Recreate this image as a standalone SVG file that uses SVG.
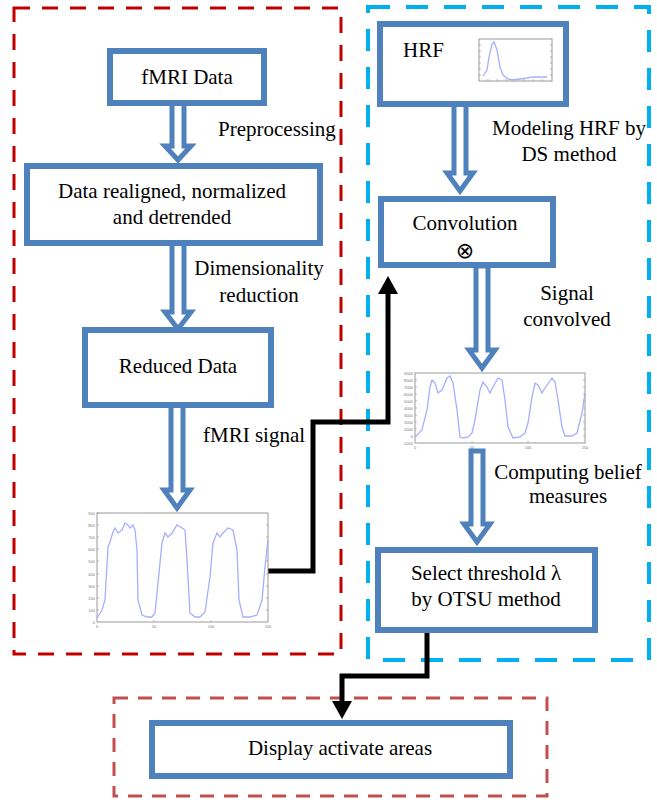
<svg xmlns="http://www.w3.org/2000/svg" width="657" height="800" viewBox="0 0 657 800">
<style>
.t{font-family:"Liberation Serif","Times New Roman",serif;font-size:21px;fill:#000}
.box{fill:#fff;stroke:#4F81BD;stroke-width:6}
.harrow{fill:#fff;stroke:#4F81BD;stroke-width:5;stroke-linejoin:miter;stroke-miterlimit:10}
.conn{fill:none;stroke:#000;stroke-width:5}
.frame{fill:#fff;stroke:#999;stroke-width:1}
.curve{fill:none;stroke:#a8adff;stroke-width:1.3}
.tick{font-family:"Liberation Sans",Arial,sans-serif;font-size:4px;fill:#777}
.tk{stroke:#999;stroke-width:0.7}
</style>
<defs>
<marker id="ah" markerWidth="4" markerHeight="4" refX="0.4" refY="2" orient="auto" markerUnits="strokeWidth" viewBox="0 0 4 4">
<path d="M0,0 L3.6,2 L0,4 z" fill="#000"/>
</marker>
</defs>
<rect width="657" height="800" fill="#fff"/>

<!-- group containers -->
<rect id="group-left" x="14" y="8" width="327" height="646" fill="none" stroke="#C00000" stroke-width="3" stroke-dasharray="16 12"/>
<rect id="group-right" x="368" y="7" width="281" height="653" fill="none" stroke="#00B0F0" stroke-width="4" stroke-dasharray="22 16"/>
<rect id="group-bottom" x="114" y="698" width="433" height="98" fill="none" stroke="#C0504D" stroke-width="3" stroke-dasharray="14 10"/>

<!-- hollow arrows and connectors -->
<g id="connectors">
<polygon class="harrow" points="172,103 184,103 184,146 191,146 178,160 165,146 172,146"/>
<polygon class="harrow" points="172,243 184,243 184,312 191,312 178,329 165,312 172,312"/>
<polygon class="harrow" points="171,405 183,405 183,490 190,490 177,508 164,490 171,490"/>
<polygon class="harrow" points="454,104 466,104 466,173 473,173 460,191 447,173 454,173"/>
<polygon class="harrow" points="476,266 488,266 488,350 495,350 482,368 469,350 476,350"/>
<polygon class="harrow" points="471,451 483,451 483,524 490,524 477,542 464,524 471,524"/>
<polyline class="conn" points="265,571 313,571 313,422 388,422 388,292" marker-end="url(#ah)"/>
<polyline class="conn" points="427,630 427,676 342,676 342,703" marker-end="url(#ah)"/>
</g>

<g id="node-fmri-data">
<rect class="box" x="110" y="51" width="154" height="52"/>
<text class="t" x="187" y="84" text-anchor="middle">fMRI Data</text>
</g>
<text class="t" x="218" y="136">Preprocessing</text>

<g id="node-realigned">
<rect class="box" x="27" y="166" width="293" height="77"/>
<text class="t" x="172" y="198" text-anchor="middle">Data realigned, normalized</text>
<text class="t" x="172" y="224" text-anchor="middle">and detrended</text>
</g>
<text class="t" x="259" y="275" text-anchor="middle">Dimensionality</text>
<text class="t" x="259" y="302" text-anchor="middle">reduction</text>

<g id="node-reduced">
<rect class="box" x="85" y="330" width="186" height="75"/>
<text class="t" x="178" y="373" text-anchor="middle">Reduced Data</text>
</g>
<text class="t" x="203" y="442">fMRI signal</text>

<g id="node-fmri-plot">
<rect class="frame" x="97" y="513" width="171" height="109"/>
<g class="tk">
<line x1="97" y1="513" x2="99" y2="513"/><line x1="97" y1="525" x2="99" y2="525"/><line x1="97" y1="537" x2="99" y2="537"/><line x1="97" y1="549" x2="99" y2="549"/><line x1="97" y1="561" x2="99" y2="561"/><line x1="97" y1="574" x2="99" y2="574"/><line x1="97" y1="586" x2="99" y2="586"/><line x1="97" y1="598" x2="99" y2="598"/><line x1="97" y1="610" x2="99" y2="610"/>
<line x1="266" y1="525" x2="268" y2="525"/><line x1="266" y1="537" x2="268" y2="537"/><line x1="266" y1="549" x2="268" y2="549"/><line x1="266" y1="561" x2="268" y2="561"/><line x1="266" y1="574" x2="268" y2="574"/><line x1="266" y1="586" x2="268" y2="586"/><line x1="266" y1="598" x2="268" y2="598"/><line x1="266" y1="610" x2="268" y2="610"/>
<line x1="154" y1="622" x2="154" y2="620"/><line x1="211" y1="622" x2="211" y2="620"/>
</g>
<g class="tick" text-anchor="end">
<text x="95" y="515">900</text><text x="95" y="527">800</text><text x="95" y="539">700</text><text x="95" y="551">600</text><text x="95" y="563">500</text><text x="95" y="576">400</text><text x="95" y="588">300</text><text x="95" y="600">200</text><text x="95" y="612">100</text><text x="95" y="624">0</text>
</g>
<g class="tick" text-anchor="middle">
<text x="97" y="628">0</text><text x="154" y="628">50</text><text x="211" y="628">100</text><text x="268" y="628">150</text>
</g>
<polyline class="curve" points="97,618 102,610 105,600 108,547 110,542 113,532 115,528 118,533 122,530 125,523 128,525 130,528 133,525 135,530 137,550 138,600 142,615 147,617 152,617 155,613 158,583 162,543 165,533 168,537 172,533 177,525 182,528 185,530 187,560 190,613 195,617 200,617 205,612 210,577 213,543 217,533 220,537 223,533 228,528 233,530 237,550 239,600 243,617 250,617 257,615 262,600 265,567 268,540"/>
</g>

<g id="node-hrf">
<rect class="box" x="380" y="24" width="186" height="80"/>
<text class="t" x="403" y="57">HRF</text>
<rect class="frame" x="479" y="39" width="73" height="42"/>
<g class="tk">
<line x1="479" y1="45" x2="481" y2="45"/><line x1="479" y1="51" x2="481" y2="51"/><line x1="479" y1="57" x2="481" y2="57"/><line x1="479" y1="63" x2="481" y2="63"/><line x1="479" y1="69" x2="481" y2="69"/><line x1="479" y1="75" x2="481" y2="75"/>
<line x1="550" y1="45" x2="552" y2="45"/><line x1="550" y1="51" x2="552" y2="51"/><line x1="550" y1="57" x2="552" y2="57"/><line x1="550" y1="63" x2="552" y2="63"/><line x1="550" y1="69" x2="552" y2="69"/><line x1="550" y1="75" x2="552" y2="75"/>
<line x1="488" y1="81" x2="488" y2="79"/><line x1="497" y1="81" x2="497" y2="79"/><line x1="506" y1="81" x2="506" y2="79"/><line x1="515" y1="81" x2="515" y2="79"/><line x1="524" y1="81" x2="524" y2="79"/><line x1="533" y1="81" x2="533" y2="79"/><line x1="542" y1="81" x2="542" y2="79"/>
</g>
<polyline class="curve" points="483,76 487,70 489,57 492,44 494,42 497,50 500,67 503,75 508,79 513,80 520,79 527,78 533,77 547,77"/>
</g>
<text class="t" x="569" y="135" text-anchor="middle">Modeling HRF by</text>
<text class="t" x="569" y="161" text-anchor="middle">DS method</text>

<g id="node-convolution">
<rect class="box" x="381" y="199" width="172" height="66"/>
<text class="t" x="465" y="230" text-anchor="middle">Convolution</text>
<text x="465" y="258" text-anchor="middle" font-family="DejaVu Sans, sans-serif" font-size="22" fill="#000">⊗</text>
</g>
<text class="t" x="567" y="300" text-anchor="middle">Signal</text>
<text class="t" x="567" y="326" text-anchor="middle">convolved</text>

<g id="node-convolved-plot">
<rect class="frame" x="415" y="373" width="170" height="70"/>
<g class="tk">
<line x1="415" y1="380" x2="417" y2="380"/><line x1="415" y1="387" x2="417" y2="387"/><line x1="415" y1="394" x2="417" y2="394"/><line x1="415" y1="401" x2="417" y2="401"/><line x1="415" y1="408" x2="417" y2="408"/><line x1="415" y1="415" x2="417" y2="415"/><line x1="415" y1="422" x2="417" y2="422"/><line x1="415" y1="429" x2="417" y2="429"/><line x1="415" y1="436" x2="417" y2="436"/>
<line x1="583" y1="380" x2="585" y2="380"/><line x1="583" y1="387" x2="585" y2="387"/><line x1="583" y1="394" x2="585" y2="394"/><line x1="583" y1="401" x2="585" y2="401"/><line x1="583" y1="408" x2="585" y2="408"/><line x1="583" y1="415" x2="585" y2="415"/><line x1="583" y1="422" x2="585" y2="422"/><line x1="583" y1="429" x2="585" y2="429"/><line x1="583" y1="436" x2="585" y2="436"/>
<line x1="472" y1="443" x2="472" y2="441"/><line x1="528" y1="443" x2="528" y2="441"/>
</g>
<g class="tick" text-anchor="end">
<text x="413" y="375">9000</text><text x="413" y="382">8000</text><text x="413" y="389">7000</text><text x="413" y="396">6000</text><text x="413" y="403">5000</text><text x="413" y="410">4000</text><text x="413" y="417">3000</text><text x="413" y="424">2000</text><text x="413" y="431">1000</text><text x="413" y="438">0</text><text x="413" y="445">-1000</text>
</g>
<g class="tick" text-anchor="middle">
<text x="415" y="449">0</text><text x="472" y="449">50</text><text x="528" y="449">100</text><text x="585" y="449">150</text>
</g>
<polyline class="curve" points="415,437 422,430 427,410 430,387 432,380 435,383 438,393 442,390 447,378 450,376 453,383 457,410 460,437 463,438 468,437 472,433 475,420 480,390 483,382 487,387 490,393 493,387 498,378 502,380 505,400 508,427 513,438 520,437 525,433 528,423 532,397 535,383 538,385 542,393 545,388 552,378 555,382 558,400 562,427 565,436 572,436 577,433 582,413 585,393"/>
</g>
<text class="t" x="568" y="479" text-anchor="middle">Computing belief</text>
<text class="t" x="568" y="503" text-anchor="middle">measures</text>

<g id="node-threshold">
<rect class="box" x="378" y="550" width="217" height="80"/>
<text class="t" x="486" y="580" text-anchor="middle">Select threshold λ</text>
<text class="t" x="486" y="606" text-anchor="middle">by OTSU method</text>
</g>

<g id="node-display">
<rect class="box" x="152" y="723" width="358" height="53"/>
<text class="t" x="340" y="755" text-anchor="middle">Display activate areas</text>
</g>
</svg>
